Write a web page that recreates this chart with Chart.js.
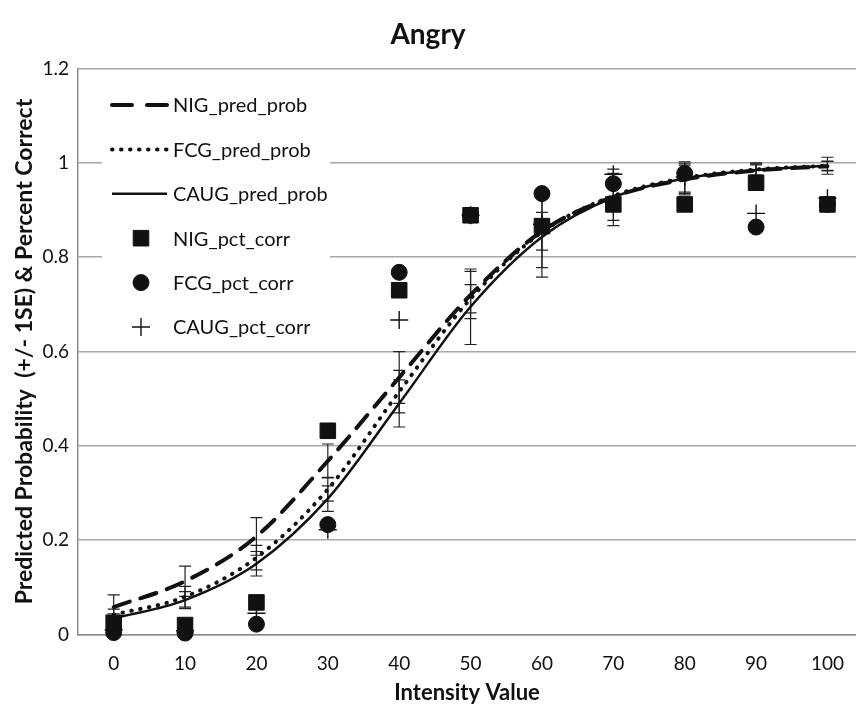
<!DOCTYPE html>
<html>
<head>
<meta charset="utf-8">
<title>Angry</title>
<script src="https://cdn.jsdelivr.net/npm/chart.js@4.4.1/dist/chart.umd.min.js"></script>
<style>
  html, body { margin: 0; padding: 0; background: #fff; overflow: hidden; }
  #wrap { width: 856px; height: 710px; }
</style>
</head>
<body>
<div id="wrap"><canvas id="angryChart" width="856" height="710"></canvas></div>
<script>
// intensity levels on the x axis
const intensity = [0, 10, 20, 30, 40, 50, 60, 70, 80, 90, 100];
const xTicks = [0, 10, 20, 30, 40, 50, 60, 70, 80, 90, 100];
const yTicks = [0, 0.2, 0.4, 0.6, 0.8, 1, 1.2];

// model predicted probabilities per group
const nigPred = [0.058, 0.113, 0.208, 0.368, 0.545, 0.720, 0.855, 0.928, 0.965, 0.984, 0.993];
const fcgPred = [0.042, 0.080, 0.163, 0.308, 0.515, 0.712, 0.853, 0.930, 0.968, 0.986, 0.994];
const caugPred = [0.034, 0.073, 0.150, 0.288, 0.490, 0.695, 0.843, 0.927, 0.967, 0.985, 0.994];

// standard errors for the predicted probabilities
const nigSE = [0.026, 0.032, 0.040, 0.036, 0.055, 0.050, 0.040, 0.050, 0.030, 0.012, 0.010];
const fcgSE = [0.012, 0.022, 0.026, 0.025, 0.045, 0.030, 0.075, 0.030, 0.030, 0.012, 0.010];
const caugSE = [0.010, 0.018, 0.026, 0.027, 0.050, 0.080, 0.085, 0.060, 0.035, 0.015, 0.018];

// observed percent correct per group
const nigPct = [0.025, 0.020, 0.068, 0.432, 0.730, 0.889, 0.866, 0.912, 0.912, 0.958, 0.912];
const fcgPct = [0.004, 0.003, 0.022, 0.233, 0.768, 0.889, 0.935, 0.956, 0.978, 0.864, 0.912];
const caugPct = [0.010, 0.008, 0.045, 0.222, 0.667, 0.889, 0.870, 0.976, 0.970, 0.893, 0.925];

const FONT = "Lato, 'Open Sans', sans-serif";
const INK = '#111';

function toPoints(values) {
  return intensity.map((x, i) => ({ x: x, y: values[i] }));
}

function predLine(label, values, se, dash, legendDash, width) {
  return {
    label: label,
    data: toPoints(values),
    se: se,
    legendDash: legendDash,
    borderColor: INK,
    borderWidth: width,
    borderDash: dash,
    borderCapStyle: dash.length ? 'round' : 'butt',
    pointRadius: 0,
    cubicInterpolationMode: 'monotone',
    fill: false,
    order: 5,
  };
}

function pctMarks(label, values, style, radius) {
  return {
    label: label,
    data: toPoints(values),
    showLine: false,
    pointStyle: style,
    pointRadius: radius,
    pointBackgroundColor: INK,
    pointBorderColor: INK,
    pointBorderWidth: style === 'cross' ? 1.4 : 1,
    clip: false,
    order: 1,
  };
}

// +/- 1SE whiskers, drawn under the curves
const errorBars = {
  id: 'errorBars',
  beforeDatasetsDraw(chart) {
    const { ctx, scales: { x, y } } = chart;
    ctx.save();
    ctx.strokeStyle = '#222';
    ctx.lineWidth = 1.2;
    chart.data.datasets.forEach((ds) => {
      if (!ds.se) return;
      ds.data.forEach((p, i) => {
        const px = x.getPixelForValue(p.x);
        const top = y.getPixelForValue(p.y + ds.se[i]);
        const bot = y.getPixelForValue(p.y - ds.se[i]);
        ctx.beginPath();
        ctx.moveTo(px, top);
        ctx.lineTo(px, bot);
        ctx.moveTo(px - 6, top);
        ctx.lineTo(px + 6, top);
        ctx.moveTo(px - 6, bot);
        ctx.lineTo(px + 6, bot);
        ctx.stroke();
      });
    });
    ctx.restore();
  },
};

// legend box sitting inside the plot, top left
const insideLegend = {
  id: 'insideLegend',
  beforeDatasetsDraw(chart) {
    const { ctx } = chart;
    const left = 102, top = 82, rowGap = 44.4;
    ctx.save();
    ctx.fillStyle = '#fff';
    ctx.fillRect(left, top, 228, 264);
    ctx.font = '20px ' + FONT;
    ctx.textBaseline = 'middle';
    ctx.textAlign = 'left';
    chart.data.datasets.forEach((ds, i) => {
      const cy = top + 23 + i * rowGap;
      ctx.strokeStyle = INK;
      ctx.fillStyle = INK;
      if (ds.showLine === false) {
        ctx.lineWidth = ds.pointBorderWidth;
        Chart.helpers.drawPoint(ctx, {
          pointStyle: ds.pointStyle,
          radius: ds.pointRadius,
          rotation: 0,
          borderWidth: ds.pointBorderWidth,
        }, 141, cy);
      } else {
        ctx.lineWidth = ds.borderWidth;
        ctx.lineCap = ds.borderCapStyle;
        ctx.setLineDash(ds.legendDash);
        ctx.beginPath();
        ctx.moveTo(112, cy);
        ctx.lineTo(167, cy);
        ctx.stroke();
        ctx.setLineDash([]);
      }
      ctx.fillStyle = INK;
      ctx.fillText(ds.label, 173, cy + 1);
    });
    ctx.restore();
  },
};

new Chart(document.getElementById('angryChart'), {
  type: 'line',
  data: {
    datasets: [
      predLine('NIG_pred_prob', nigPred, nigSE, [17, 11], [20, 15], 4),
      predLine('FCG_pred_prob', fcgPred, fcgSE, [0.5, 8.5], [0.5, 8.5], 4),
      predLine('CAUG_pred_prob', caugPred, caugSE, [], [], 2.5),
      pctMarks('NIG_pct_corr', nigPct, 'rect', 11),
      pctMarks('FCG_pct_corr', fcgPct, 'circle', 8),
      pctMarks('CAUG_pct_corr', caugPct, 'cross', 9),
    ],
  },
  options: {
    responsive: false,
    animation: false,
    devicePixelRatio: 1,
    // plot runs right up to the canvas edge
    layout: { autoPadding: false, padding: 0 },
    plugins: {
      legend: { display: false },
      tooltip: { enabled: false },
      title: {
        display: true,
        text: 'Angry',
        color: INK,
        font: { family: FONT, size: 28, weight: 'bold' },
        padding: { top: 18, bottom: 17 },
      },
    },
    scales: {
      x: {
        type: 'linear',
        min: -5,
        max: 104,
        afterBuildTicks: (scale) => {
          scale.ticks = xTicks.map((v) => ({ value: v }));
        },
        afterFit: (scale) => {
          scale.height = 75.5;
          scale.paddingLeft = 0;
          scale.paddingRight = 0;
        },
        grid: { display: false, drawTicks: false },
        border: { display: true, color: '#8c8c8c', width: 1.5 },
        ticks: {
          color: INK,
          padding: 18,
          maxRotation: 0,
          font: { family: FONT, size: 19 },
        },
        title: {
          display: true,
          text: 'Intensity Value',
          color: INK,
          font: { family: FONT, size: 22, weight: 'bold' },
          padding: { top: 4, bottom: 4 },
        },
      },
      y: {
        min: 0,
        max: 1.2,
        afterBuildTicks: (scale) => {
          scale.ticks = yTicks.map((v) => ({ value: v }));
        },
        afterFit: (scale) => {
          scale.width = 78;
        },
        grid: { color: '#a8a8a8', lineWidth: 1.5, drawTicks: false },
        border: { display: true, color: '#8c8c8c', width: 1.5 },
        ticks: {
          color: INK,
          padding: 9,
          font: { family: FONT, size: 19 },
          callback: (v) => String(Math.round(v * 10) / 10),
        },
        title: {
          display: true,
          text: 'Predicted Probability  (+/- 1SE) & Percent Correct',
          color: INK,
          font: { family: FONT, size: 23, weight: 'bold' },
          padding: { top: 11, bottom: 4 },
        },
      },
    },
  },
  plugins: [errorBars, insideLegend],
});
</script>
</body>
</html>
